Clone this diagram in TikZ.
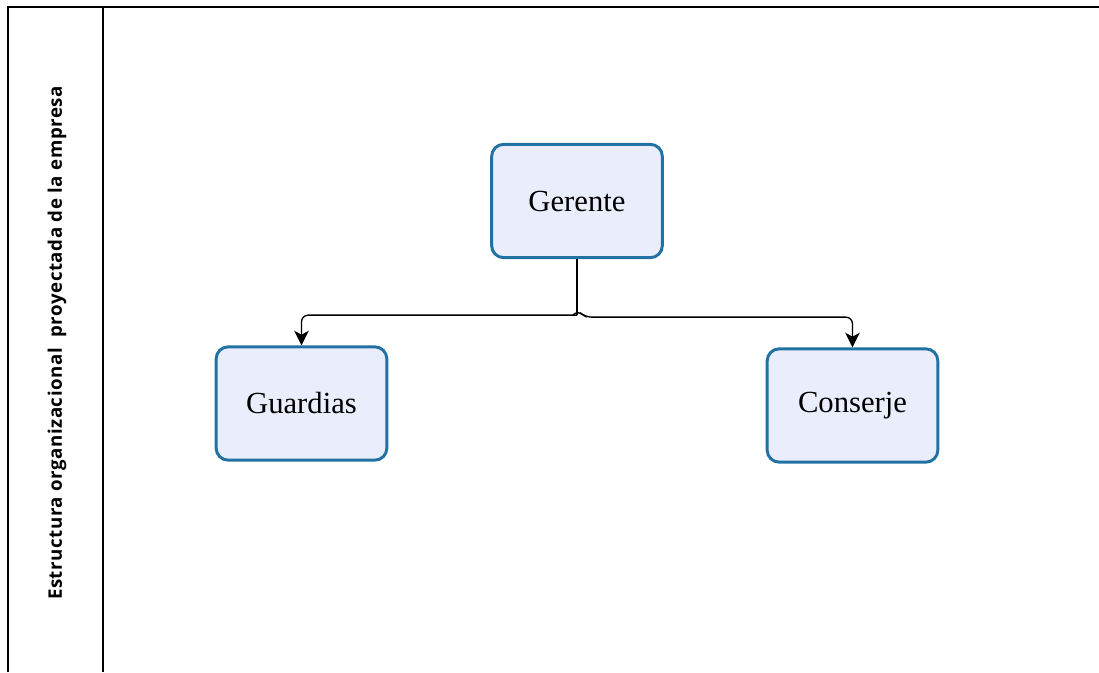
\documentclass[tikz,border=0pt]{standalone}
\usepackage{fontspec}
\setmainfont{Liberation Serif}
\newfontfamily\lanefont[LetterSpace=3]{Open Sans}
\usetikzlibrary{arrows.meta}
\definecolor{boxfill}{RGB}{234,238,252}
\definecolor{boxline}{RGB}{33,113,163}
\begin{document}
\begin{tikzpicture}[
      x=0.75pt, y=-0.75pt,
      role/.style={draw=boxline, fill=boxfill, line width=2.2pt, rounded corners=9pt,
        minimum width=128pt, minimum height=85pt, font=\fontsize{23}{27}\selectfont},
      conn/.style={line width=1pt, -{Stealth[length=11pt, width=11pt, inset=3pt]}}
    ]
    \useasboundingbox (0,0) rectangle (1099,672);

    % lane frame
    \draw [line width=1.5pt] (8,672) -- (8,7) -- (1099,7);
    \draw [line width=1.5pt] (103,7) -- (103,672);
    \node [rotate=90, font=\lanefont\bfseries\fontsize{14}{16}\selectfont] (lanetitle) at (57,343)
      {Estructura organizacional \ proyectada de la empresa};

    % boxes
    \node [role] (gerente) at (577,201) {Gerente};
    \node [role] (guardias) at (301.5,403.5) {Guardias};
    \node [role] (conserje) at (852.5,405.5) {Conserje};

    % connectors
    \coordinate (split) at ([yshift=-42pt]gerente.south);
    \draw [line width=1pt] (gerente.south) -- (split);
    \draw [conn, rounded corners=5pt] (split) -| (guardias.north);
    \draw [conn, rounded corners=5pt] ([xshift=-3pt]split) -- ([yshift=4pt]split)
      -- ([xshift=6pt, yshift=-1.5pt]split) -| (conserje.north);
  \end{tikzpicture}
\end{document}
